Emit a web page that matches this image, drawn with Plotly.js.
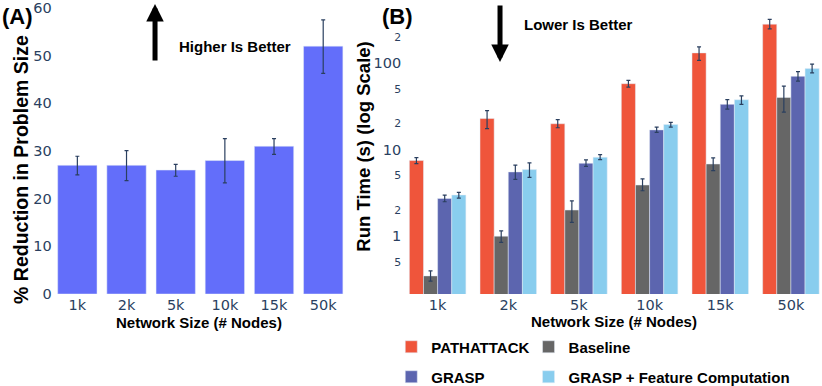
<!DOCTYPE html>
<html>
<head>
<meta charset="utf-8">
<script src="https://cdn.plot.ly/plotly-3.0.1.min.js"></script>
<style>
  html, body { margin: 0; padding: 0; background: #fff; }
  #chart { width: 822px; height: 386px; }
</style>
</head>
<body>
<div id="chart"></div>
<script>
// ---- data ----
const sizes = ['1k', '2k', '5k', '10k', '15k', '50k']

// (A) % reduction in problem size
const reduction = [27, 27, 26, 28, 31, 52]
const reductionPlus = [1.9, 3.1, 1.2, 4.6, 1.6, 5.5]
const reductionMinus = [2.0, 3.2, 1.3, 4.7, 1.7, 5.7]

// (B) run time in seconds
const pathattack = [7.45, 22.9, 19.9, 58, 132, 284]
const pathattackPlus = [0.6, 5.4, 2.3, 5.3, 23, 38]
const pathattackMinus = [0.6, 5.4, 2.0, 5.2, 24, 33]

const baseline = [0.343, 0.99, 1.99, 3.88, 6.8, 40.2]
const baselinePlus = [0.05, 0.15, 0.55, 0.7, 1.2, 14]
const baselineMinus = [0.045, 0.15, 0.56, 0.55, 1.1, 13]

const grasp = [2.71, 5.5, 6.93, 16.9, 33.4, 70.6]
const graspPlus = [0.25, 1.1, 0.65, 1.3, 4.4, 9.5]
const graspMinus = [0.23, 1.0, 0.55, 1.1, 4.0, 8.5]

const graspFeat = [2.97, 5.85, 8.13, 19.5, 37.8, 86.8]
const graspFeatPlus = [0.22, 1.15, 0.6, 1.1, 4.2, 10.8]
const graspFeatMinus = [0.23, 1.1, 0.5, 1.3, 4.4, 9.6]

const tickColor = '#2a3f5f'
const titleFont = {family: 'Liberation Sans, Arial, sans-serif', size: 15, color: '#000', weight: 'bold'}

const errBar = (plus, minus) => ({
	type: 'data', symmetric: false, array: plus, arrayminus: minus,
	color: '#2a3f5f', thickness: 1.2, width: 2
})

const runTrace = (name, y, plus, minus, color, legend) => ({
	type: 'bar', name: name, x: sizes, y: y,
	xaxis: 'x2', yaxis: 'y2', legend: legend,
	marker: {color: color, line: {color: '#E5ECF6', width: 0.5}},
	error_y: errBar(plus, minus)
})

const data = [
	{
		type: 'bar', x: sizes, y: reduction, showlegend: false,
		marker: {color: '#636EFA', line: {color: '#E5ECF6', width: 0.5}},
		error_y: errBar(reductionPlus, reductionMinus)
	},
	runTrace('PATHATTACK', pathattack, pathattackPlus, pathattackMinus, '#EF553B', 'legend'),
	runTrace('Baseline', baseline, baselinePlus, baselineMinus, '#666666', 'legend2'),
	runTrace('GRASP', grasp, graspPlus, graspMinus, '#5C65AF', 'legend3'),
	runTrace('GRASP + Feature Computation', graspFeat, graspFeatPlus, graspFeatMinus, '#89CDEE', 'legend4')
]

const legendAt = (x, y) => ({
	x: x, y: y, xanchor: 'left', yanchor: 'middle',
	bgcolor: 'rgba(0,0,0,0)', font: titleFont
})

const axisCommon = {
	showgrid: false, zeroline: false, showline: false, ticks: '',
	tickfont: {family: 'DejaVu Sans, sans-serif', size: 14.5, color: tickColor}
}

// text placed in paper coordinates, centred on the given point
const label = (x, y, text, size, angle) => ({
	xref: 'paper', yref: 'paper', x: x, y: y, xanchor: 'center', yanchor: 'middle',
	showarrow: false, text: text, textangle: angle || 0,
	font: Object.assign({}, titleFont, {size: size})
})

const arrow = (x, y, ay) => ({
	xref: 'paper', yref: 'paper', x: x, y: y, ax: 0, ay: ay, text: '',
	showarrow: true, arrowhead: 2, arrowwidth: 5, arrowsize: 0.7, arrowcolor: '#000'
})

const layout = {
	width: 822, height: 386,
	margin: {l: 0, r: 0, t: 0, b: 0, autoexpand: false},
	paper_bgcolor: '#fff', plot_bgcolor: '#fff',
	barmode: 'group', bargap: 0.2, bargroupgap: 0,
	xaxis: Object.assign({}, axisCommon, {
		domain: [0.0642, 0.4231], range: [-0.5, 5.5], anchor: 'y'
	}),
	yaxis: Object.assign({}, axisCommon, {
		domain: [0.2383, 0.9793], range: [0, 60], dtick: 10, anchor: 'x'
	}),
	xaxis2: Object.assign({}, axisCommon, {
		domain: [0.4894, 1], range: [-0.5, 5.44], anchor: 'y2'
	}),
	yaxis2: Object.assign({}, axisCommon, {
		domain: [0.2383, 0.9793], type: 'log', range: [-0.675, 2.641], dtick: 'D2', anchor: 'x2'
	}),
	legend: legendAt(0.476, 0.101),
	legend2: legendAt(0.643, 0.101),
	legend3: legendAt(0.476, 0.0233),
	legend4: legendAt(0.643, 0.0233),
	annotations: [
		label(0.0255, 0.5622, '% Reduction in Problem Size', 19.5, -90),
		label(0.4428, 0.62, 'Run Time (s) (log Scale)', 18.5, -90),
		label(0.2415, 0.1658, 'Network Size (# Nodes)', 15),
		label(0.747, 0.1666, 'Network Size (# Nodes)', 15),
		label(0.0213, 0.9585, '(A)', 22),
		label(0.4830, 0.9585, '(B)', 22),
		arrow(0.1886, 0.9896, 58),
		arrow(0.6083, 0.8394, -58),
		label(0.2859, 0.879, 'Higher Is Better', 15),
		label(0.7032, 0.937, 'Lower Is Better', 15)
	]
}

Plotly.newPlot('chart', data, layout, {staticPlot: true})
</script>
</body>
</html>
